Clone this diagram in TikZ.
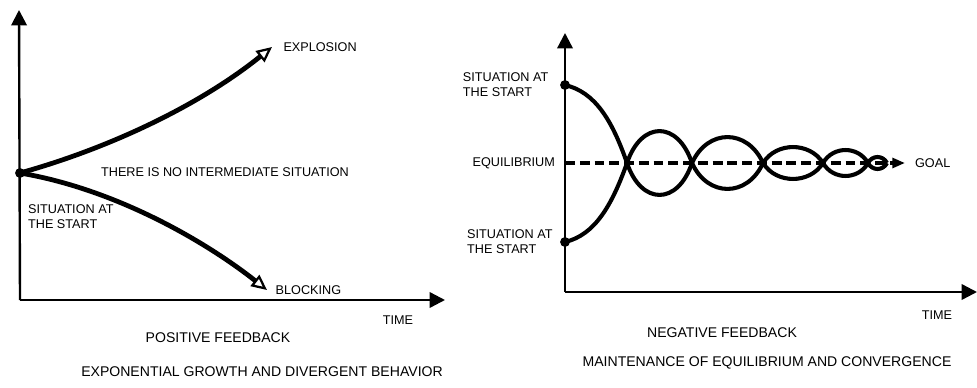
\documentclass[tikz,border=0pt]{standalone}
\usepackage{fontspec}
\setmainfont{Liberation Sans}
\usepackage{tikz}
\usetikzlibrary{arrows.meta,positioning}

\begin{document}
\begin{tikzpicture}[
  x=0.025cm, y=-0.025cm,
  lbl/.style={inner sep=1pt,font=\fontsize{9}{10.5}\selectfont,align=left},
  captxt/.style={inner sep=1pt,font=\fontsize{10}{12}\selectfont},
  axis/.style={line width=1.7pt,-{Triangle[length=11pt,width=11pt]}},
  curve/.style={line width=3.4pt,-{Triangle[fill=white,length=11pt,width=10pt,line width'=1.6pt]}},
  wave/.style={line width=2.9pt},
  eqline/.style={line width=2.4pt,dash pattern=on 7pt off 3.5pt,-{Triangle[length=9pt,width=7pt]}},
  dot/.style={circle,fill=black,inner sep=0pt,minimum size=7pt}
]
\useasboundingbox (0,0) rectangle (977,387);

% positive feedback
\coordinate (o1) at (20,300);
\coordinate (ytop1) at (19,10);
\coordinate (xend1) at (445,300);
\coordinate (expl) at (272,47);
\coordinate (block) at (267,290);
\draw[axis] (o1) -- (ytop1);
\draw[axis] (o1) -- (xend1);
\node[dot] (s1) at (20,173) {};
\draw[curve] (s1.center) .. controls (110,148) and (200,105) .. (expl);
\draw[curve] (s1.center) .. controls (120,190) and (210,245) .. (block);

\node[lbl,right=7pt of expl] (explt) {EXPLOSION};
\node[lbl,right=5pt of block] (blockt) {BLOCKING};
\node[lbl,below right=19pt and 2pt of s1] (start1) {SITUATION AT\\THE START};
\node[lbl] (nomid) at (225,172) {THERE IS NO INTERMEDIATE SITUATION};
\node[lbl] (time1) at (398,320) {TIME};
\node[captxt] (pos) at (218,338) {POSITIVE FEEDBACK};
\node[captxt] (posd) at (262,372) {EXPONENTIAL GROWTH AND DIVERGENT BEHAVIOR};

% negative feedback
\coordinate (o2) at (565,292);
\coordinate (ytop2) at (565,33);
\coordinate (xend2) at (977,292);
\coordinate (eqs) at (565,163);
\coordinate (c1) at (627,163);
\coordinate (goal) at (905,163);
\draw[axis] (o2) -- (ytop2);
\draw[axis] (o2) -- (xend2);
\draw[eqline] (eqs) -- (goal);
\node[dot] (s2t) at (565,85) {};
\node[dot] (s2b) at (565,242) {};
\draw[wave] (s2t.center) .. controls (595,92) and (612,120) .. (c1);
\draw[wave] (s2b.center) .. controls (595,235) and (612,205) .. (c1);
\foreach \a/\b/\h in {627/692/32,692/763/26,763/823/16,823/868/13,868/887/6}{
  \draw[wave] (\a,163) .. controls ({\a+0.22*(\b-\a)},{163-1.33*\h}) and ({\b-0.22*(\b-\a)},{163-1.33*\h}) .. (\b,163);
  \draw[wave] (\a,163) .. controls ({\a+0.22*(\b-\a)},{163+1.33*\h}) and ({\b-0.22*(\b-\a)},{163+1.33*\h}) .. (\b,163);
}

\node[lbl,left=7pt of s2t] (start2t) {SITUATION AT\\THE START};
\node[lbl,left=6pt of eqs] (eqt) {EQUILIBRIUM};
\node[lbl,left=4pt of s2b] (start2b) {SITUATION AT\\THE START};
\node[lbl,right=6pt of goal] (goalt) {GOAL};
\node[lbl] (time2) at (937,315) {TIME};
\node[captxt] (neg) at (722,333) {NEGATIVE FEEDBACK};
\node[captxt] (negd) at (767,363) {MAINTENANCE OF EQUILIBRIUM AND CONVERGENCE};
\end{tikzpicture}
\end{document}
